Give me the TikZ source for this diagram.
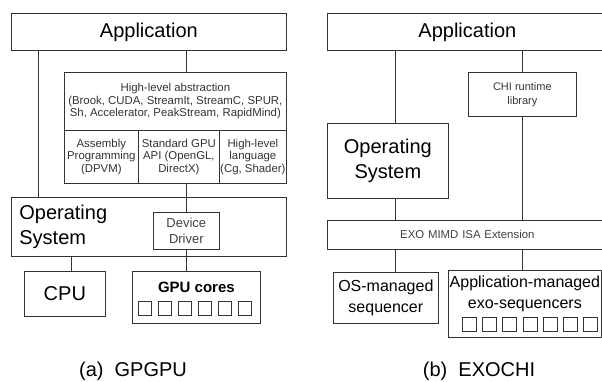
\documentclass[tikz,border=0pt]{standalone}
\usepackage{fontspec}
\setmainfont{Liberation Sans}
\usepackage{tikz}
\usetikzlibrary{positioning, calc}

\begin{document}
\begin{tikzpicture}[x=1pt, y=-1pt,
  box/.style={draw=black!80, line width=0.7pt, anchor=north west, inner sep=0pt, align=center},
  link/.style={draw=black!80, line width=0.7pt},
  cell/.style={draw=black!80, line width=0.6pt, anchor=north west, inner sep=0pt, minimum width=13pt, minimum height=14pt},
  big/.style={font=\fontsize{20}{25}\selectfont},
  mid/.style={font=\fontsize{16}{21}\selectfont},
  small/.style={font=\fontsize{11.4}{12.5}\selectfont, text=black!80}]
\path[use as bounding box, clip] (0,0) rectangle (602,381);

% (a) GPGPU stack
\node[box, big, minimum width=275pt, minimum height=37pt] (app1) at (11,13) {Application};
\node[box, small, minimum width=222pt, minimum height=58pt] (hla) at (64,72)
  {High-level abstraction\\(Brook, CUDA, StreamIt, StreamC, SPUR,\\Sh, Accelerator, PeakStream, RapidMind)};
\node[box, small, minimum width=74pt, minimum height=53pt] (asm) at (64,130) {Assembly\\Programming\\(DPVM)};
\node[box, small, minimum width=81pt, minimum height=53pt] (api) at (138,130) {Standard GPU\\API (OpenGL,\\DirectX)};
\node[box, small, minimum width=67pt, minimum height=53pt] (hll) at (219,130) {High-level\\language\\(Cg, Shader)};
\node[box, big, align=left, text width=259pt, inner xsep=8pt, minimum height=59pt] (os1) at (11,197) {Operating\\System};
\node[box, font=\fontsize{13}{16}\selectfont, text=black!75, minimum width=66pt, minimum height=37pt] (dd) at (153,212) {Device\\Driver};
\node[box, big, minimum width=81pt, minimum height=45pt] (cpu) at (24,271) {CPU};
\node[box, minimum width=128pt, minimum height=52pt] (gpu) at (132,271) {};
\node[font=\fontsize{15}{18}\selectfont\bfseries] (gpulbl) at ([yshift=-16pt]gpu.north) {GPU cores};
\foreach \i in {0,...,5}
  \node[cell] (gc\i) at (138+20*\i,301) {};

\draw[link] ([xshift=27pt]app1.south west) -- ([xshift=27pt]os1.north west);
\draw[link] (dd.north |- app1.south) -- (dd.north |- hla.north);
\draw[link] (dd.north |- api.south) -- (dd.north);
\draw[link] (dd.south) -- (dd.south |- gpu.north);
\draw[link] ([xshift=60pt]os1.south west) -- ([xshift=47pt]cpu.north west);

\node[big] (cap1) at (133,371) {(a)\ \ GPGPU};

% (b) EXOCHI stack
\node[box, big, minimum width=280pt, minimum height=37pt, text width=274pt] (app2) at (327,13) {Application};
\node[box, font=\fontsize{11}{14}\selectfont, text=black!80, minimum width=108pt, minimum height=44pt] (chi) at (468,72) {CHI runtime\\library};
\node[box, big, minimum width=121pt, minimum height=75pt] (os2) at (327,123) {Operating\\System};
\node[box, small, text=black!75, minimum width=280pt, minimum height=29pt, text width=274pt] (exo) at (327,220) {EXO MIMD ISA Extension};
\node[box, mid, minimum width=105pt, minimum height=51pt] (osm) at (333,272) {OS-managed\\sequencer};
\node[box, minimum width=153pt, minimum height=67pt] (appm) at (448,270) {};
\node[mid, align=center] (appmlbl) at ([yshift=-24pt]appm.north) {Application-managed\\exo-sequencers};
\foreach \i in {0,...,6}
  \node[cell, minimum width=14pt] (ec\i) at (462+20.2*\i,317) {};

\draw[link] ([xshift=68pt]app2.south west) -- ([xshift=68pt]os2.north west);
\draw[link] ([xshift=68pt]os2.south west) -- ([xshift=68pt]exo.north west);
\draw[link] ([xshift=68pt]exo.south west) -- ([xshift=62pt]osm.north west);
\draw[link] (chi.north |- app2.south) -- (chi.north);
\draw[link] (chi.south) -- (chi.south |- exo.north);
\draw[link] (chi.south |- exo.south) -- (chi.south |- appm.north);

\node[big] (cap2) at (479,371) {(b)\ \ EXOCHI};
\end{tikzpicture}
\end{document}
